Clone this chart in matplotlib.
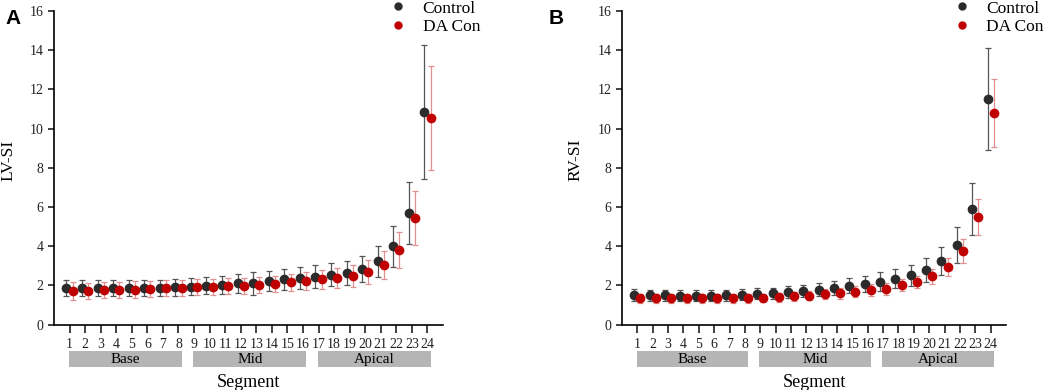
import numpy as np
import matplotlib
matplotlib.use("Agg")
import matplotlib.pyplot as plt
from matplotlib.patches import Rectangle
from matplotlib.lines import Line2D
import matplotlib.transforms as mtransforms

plt.rcParams['font.family'] = ['Liberation Serif', 'DejaVu Serif']

segments = list(range(1, 25))
groups = ["Base", "Mid", "Apical"]
group_spans = [(1, 8), (9, 16), (17, 24)]

# LV-SI (panel A)
lv_ctrl = [1.87, 1.87, 1.85, 1.85, 1.85, 1.87, 1.87, 1.90, 1.93, 1.98, 2.03, 2.10,
           2.10, 2.22, 2.30, 2.37, 2.44, 2.55, 2.64, 2.84, 3.23, 4.00, 5.70, 10.87]
lv_ctrl_sd = [0.40, 0.40, 0.40, 0.40, 0.40, 0.40, 0.40, 0.42, 0.42, 0.44, 0.45, 0.47,
              0.58, 0.52, 0.55, 0.56, 0.58, 0.60, 0.62, 0.68, 0.80, 1.04, 1.58, 3.42]
lv_da = [1.71, 1.71, 1.75, 1.76, 1.78, 1.82, 1.85, 1.87, 1.90, 1.92, 1.95, 1.98,
         2.02, 2.08, 2.15, 2.22, 2.30, 2.37, 2.49, 2.69, 3.04, 3.78, 5.43, 10.55]
lv_da_sd = [0.44, 0.43, 0.42, 0.42, 0.42, 0.42, 0.40, 0.40, 0.40, 0.40, 0.40, 0.40,
            0.40, 0.42, 0.44, 0.46, 0.50, 0.52, 0.56, 0.60, 0.72, 0.92, 1.38, 2.65]

# RV-SI (panel B)
rv_ctrl = [1.50, 1.50, 1.50, 1.48, 1.48, 1.48, 1.50, 1.51, 1.56, 1.60, 1.65, 1.71,
           1.78, 1.87, 1.97, 2.07, 2.18, 2.34, 2.52, 2.77, 3.23, 4.05, 5.88, 11.50]
rv_ctrl_sd = [0.30, 0.28, 0.28, 0.28, 0.28, 0.28, 0.28, 0.28, 0.28, 0.28, 0.30, 0.30,
              0.32, 0.34, 0.38, 0.42, 0.48, 0.50, 0.53, 0.60, 0.70, 0.92, 1.33, 2.60]
rv_da = [1.34, 1.34, 1.33, 1.33, 1.33, 1.33, 1.33, 1.34, 1.36, 1.39, 1.43, 1.48,
         1.55, 1.60, 1.66, 1.75, 1.83, 2.00, 2.17, 2.45, 2.92, 3.75, 5.48, 10.80]
rv_da_sd = [0.22, 0.22, 0.22, 0.22, 0.22, 0.22, 0.22, 0.22, 0.22, 0.24, 0.24, 0.25,
            0.26, 0.28, 0.28, 0.30, 0.30, 0.30, 0.32, 0.36, 0.45, 0.60, 0.90, 1.75]

ctrl_col = "#2b2b2b"
da_col = "#c00000"
da_err = "#e09090"


def draw_panel(ax, ctrl, ctrl_sd, da, da_sd, ylabel, letter, letter_x, ylab_x):
    x = np.array(segments)
    ax.errorbar(x - 0.2, ctrl, yerr=ctrl_sd, fmt="o", color=ctrl_col, ecolor="#555555",
                elinewidth=0.9, capsize=2, capthick=0.9, markersize=6, zorder=3)
    ax.errorbar(x + 0.2, da, yerr=da_sd, fmt="o", color=da_col, ecolor=da_err,
                elinewidth=0.9, capsize=2, capthick=0.9, markersize=6, zorder=3)
    ax.set_xlim(0, 25)
    ax.set_ylim(0, 16)
    ax.set_yticks(range(0, 17, 2))
    ax.set_xticks(segments)
    ax.tick_params(axis="x", length=6, width=1.2, pad=4, labelsize=10, colors="#222222")
    ax.tick_params(axis="y", length=4, width=1.2, labelsize=10, colors="#222222")
    for s in ["top", "right"]:
        ax.spines[s].set_visible(False)
    for s in ["left", "bottom"]:
        ax.spines[s].set_linewidth(1.2)
    ax.set_ylabel(ylabel, fontsize=12.5)
    ax.yaxis.set_label_coords(ylab_x, 0.525)
    ax.set_xlabel("Segment", fontsize=13, labelpad=16)

    trans = mtransforms.blended_transform_factory(ax.transData, ax.transAxes)
    for name, (a, b) in zip(groups, group_spans):
        ax.add_patch(Rectangle((a - 0.05, -0.137), (b - a) + 0.25, 0.052, transform=trans,
                               facecolor="#b5b5b5", edgecolor="none", clip_on=False))
        ax.text((a + b) / 2 + 0.1, -0.111, name, transform=trans, ha="center", va="center",
                fontsize=11)

    handles = [Line2D([], [], marker="o", ls="none", color=ctrl_col, markersize=5),
               Line2D([], [], marker="o", ls="none", color=da_col, markersize=5)]
    ax.legend(handles, ["Control", "DA Con"], loc="upper left", bbox_to_anchor=(0.845, 1.056),
              frameon=False, fontsize=12.5, handletextpad=0.9, labelspacing=0.15,
              handlelength=1.0, borderaxespad=0)
    ax.text(letter_x, 1.005, letter, transform=ax.transAxes, fontsize=15, fontweight="bold",
            family="Liberation Sans", va="top", ha="left")


fig = plt.figure(figsize=(10.49, 3.90), dpi=100)
ax1 = fig.add_axes([54 / 1049, 1 - 324.5 / 390, 389 / 1049, 313.5 / 390])
ax2 = fig.add_axes([622 / 1049, 1 - 324.5 / 390, 384 / 1049, 313.5 / 390])
draw_panel(ax1, lv_ctrl, lv_ctrl_sd, lv_da, lv_da_sd, "LV-SI", "A", -0.125, -0.097)
draw_panel(ax2, rv_ctrl, rv_ctrl_sd, rv_da, rv_da_sd, "RV-SI", "B", -0.19, -0.10)

fig.savefig("out.png", dpi=100)
